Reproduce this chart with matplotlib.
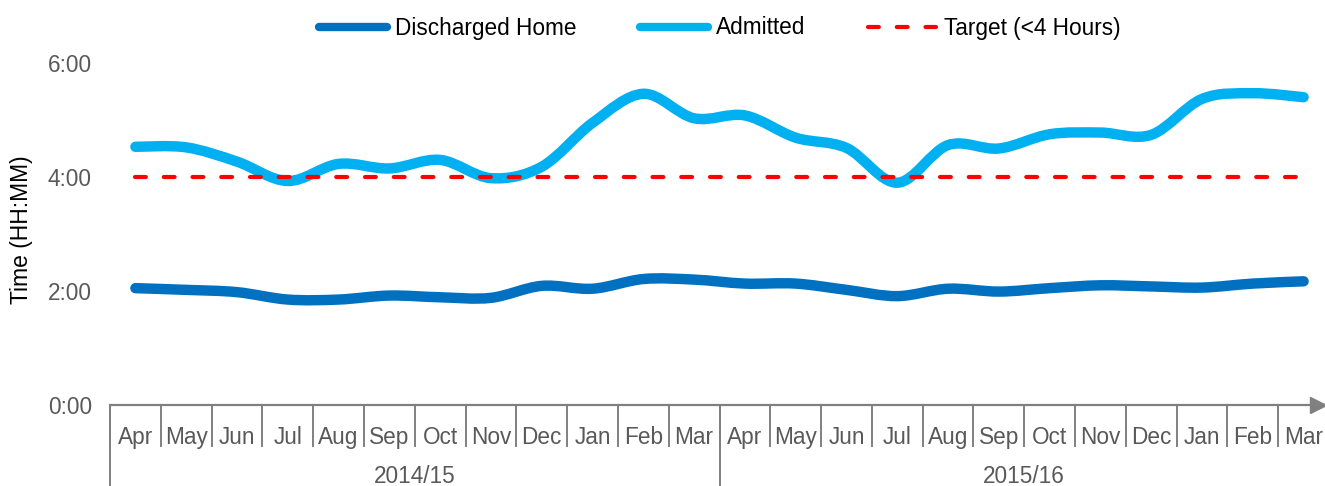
import numpy as np
import matplotlib
matplotlib.use("Agg")
import matplotlib.pyplot as plt
from matplotlib.path import Path
from matplotlib.patches import PathPatch
from matplotlib.lines import Line2D
from matplotlib.transforms import blended_transform_factory

plt.rcParams['font.family'] = ['Liberation Sans', 'DejaVu Sans']

# data (hours)
months = ['Apr', 'May', 'Jun', 'Jul', 'Aug', 'Sep', 'Oct', 'Nov', 'Dec', 'Jan', 'Feb', 'Mar'] * 2
years = ['2014/15', '2015/16']
discharged = [2.05, 2.02, 1.98, 1.85, 1.85, 1.92, 1.89, 1.88, 2.09, 2.04, 2.21, 2.20,
              2.13, 2.13, 2.02, 1.91, 2.04, 1.99, 2.05, 2.10, 2.08, 2.06, 2.13, 2.17]
admitted = [4.53, 4.52, 4.27, 3.93, 4.23, 4.15, 4.30, 3.98, 4.18, 4.95, 5.46, 5.03,
            5.08, 4.69, 4.51, 3.90, 4.56, 4.50, 4.75, 4.78, 4.74, 5.37, 5.47, 5.40]
target = 4.0
yticks = [0, 2, 4, 6]

GREY = '#808080'
TXT = '#595959'
FS = 16.3


def smooth_path(x, y):
    # excel-like smoothed line: catmull-rom segments as cubic beziers
    pts = np.column_stack([x, y]).astype(float)
    p = np.vstack([pts[0], pts, pts[-1]])
    verts = [pts[0]]
    codes = [Path.MOVETO]
    for i in range(1, len(p) - 2):
        c1 = p[i] + (p[i + 1] - p[i - 1]) / 6
        c2 = p[i + 1] - (p[i + 2] - p[i]) / 6
        verts += [c1, c2, p[i + 1]]
        codes += [Path.CURVE4] * 3
    return Path(verts, codes)


fig = plt.figure(figsize=(13.25, 4.86), dpi=100)
ax = fig.add_axes([110 / 1325, 81 / 486, 1219 / 1325, 342 / 486])

x = np.arange(len(months))
ax.add_patch(PathPatch(smooth_path(x, discharged), fill=False, edgecolor='#0070C0',
                       lw=7.5, capstyle='round', joinstyle='round'))
ax.add_patch(PathPatch(smooth_path(x, admitted), fill=False, edgecolor='#00B0F0',
                       lw=7.5, capstyle='round', joinstyle='round'))
ax.plot([x[0], x[-1]], [target, target], color='#FF0000', lw=3,
        linestyle=(0, (2.6, 4.3)), dash_capstyle='round')

ax.set_xlim(-0.5, len(months) - 0.5)
ax.set_ylim(0, 6)
ax.set_yticks(yticks)
ax.set_yticklabels(['%d:00' % v for v in yticks])
ax.tick_params(axis='y', length=0, pad=13, labelsize=FS, labelcolor=TXT)

# category axis: separators as major ticks, month names as minor tick labels
ax.set_xticks(np.arange(len(months) + 1) - 0.5)
ax.set_xticklabels([])
ax.tick_params(axis='x', which='major', direction='out', length=30, width=1.4, color=GREY)
ax.set_xticks(x, minor=True)
ax.set_xticklabels(months, minor=True)
ax.tick_params(axis='x', which='minor', length=0, pad=15, labelsize=FS, labelcolor=TXT)

for s in ['top', 'right', 'left']:
    ax.spines[s].set_visible(False)
ax.spines['bottom'].set_color(GREY)
ax.spines['bottom'].set_linewidth(1.6)

# arrow head at end of x axis
ax.plot([0.991], [0], marker='>', ms=11, color=GREY, transform=ax.transAxes, clip_on=False)

# year level
tr = blended_transform_factory(ax.transData, ax.transAxes)
for b in [-0.5, 11.5]:
    ax.plot([b, b], [0, -81 / 342], color=GREY, lw=1.4, transform=tr, clip_on=False)
for i, yr in enumerate(years):
    ax.text(i * 12 + 5.5, -71 / 342, yr, transform=tr, ha='center', va='center',
            fontsize=FS, color=TXT)

fig.text(22 / 1325, 1 - 230 / 486, 'Time (HH:MM)', rotation=90, ha='center', va='center',
         fontsize=16.5, color='black')

handles = [Line2D([], [], color='#0070C0', lw=6, solid_capstyle='round'),
           Line2D([], [], color='#00B0F0', lw=6, solid_capstyle='round'),
           Line2D([], [], color='#FF0000', lw=3, linestyle=(0, (2.6, 4.3)), dash_capstyle='round')]
fig.legend(handles, ['Discharged Home', 'Admitted', 'Target (<4 Hours)'], loc='center',
           bbox_to_anchor=(720 / 1325, 1 - 28 / 486), ncol=3, frameon=False, fontsize=FS,
           handlelength=3.0, handletextpad=0.35, columnspacing=2.8, borderpad=0)

fig.savefig('out.png', dpi=100)
